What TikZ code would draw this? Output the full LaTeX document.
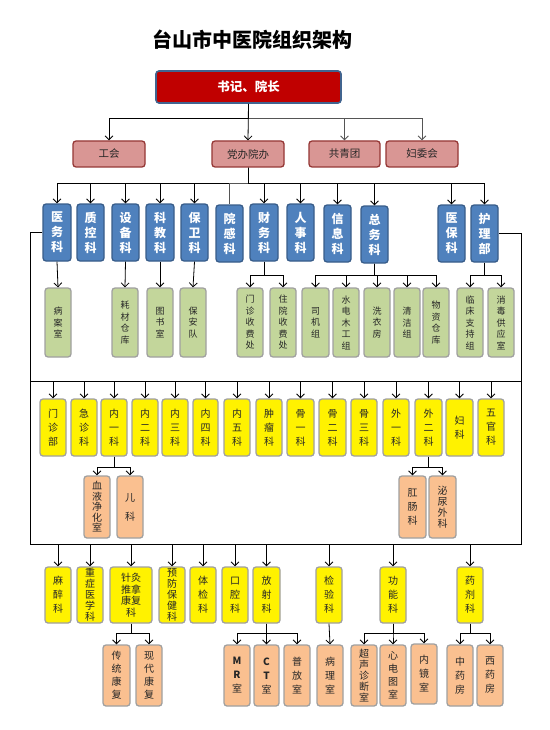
\documentclass[tikz,border=0pt]{standalone}
\usepackage{fontspec}
\setmainfont{Noto Sans CJK SC}
\usetikzlibrary{arrows.meta}
\definecolor{cRed}{HTML}{C00000}
\definecolor{cRedB}{HTML}{41648F}
\definecolor{cPink}{HTML}{D99694}
\definecolor{cPinkB}{HTML}{953735}
\definecolor{cBlue}{HTML}{4F81BD}
\definecolor{cBlueB}{HTML}{385D8A}
\definecolor{cGreen}{HTML}{C3D69B}
\definecolor{cOrange}{HTML}{FAC090}
\definecolor{cGray}{HTML}{A0A0A0}
\definecolor{cTxt}{HTML}{262626}
\definecolor{cLine}{HTML}{555555}
\newcommand\mkbox[7]{%
  \pgfmathsetmacro\mkbw{#5-#3}\pgfmathsetmacro\mkbh{#6-#4}%
  \node[#2,minimum width=\mkbw pt,minimum height=\mkbh pt] (#1) at ({(#3+#5)/2},{(#4+#6)/2}) {#7};}
\tikzset{
 box/.style={rounded corners=3pt, inner sep=0pt, align=center, line width=1.3pt},
 redbox/.style={box, fill=cRed, draw=cRedB, text=white, font=\bfseries\fontsize{12.5}{14}\selectfont, line width=1.6pt},
 pinkbox/.style={box, fill=cPink, draw=cPinkB, text=cTxt, font=\fontsize{10.5}{12}\selectfont},
 bluebox/.style={box, fill=cBlue, draw=cBlueB, text=white, font=\bfseries\fontsize{12}{15}\selectfont},
 greenbox/.style={box, fill=cGreen, draw=cGray, text=cTxt, font=\fontsize{9}{11.5}\selectfont},
 yelbox/.style={box, fill=yellow, draw=cGray, text=cTxt, font=\fontsize{10}{14}\selectfont},
 orbox/.style={box, fill=cOrange, draw=cGray, text=cTxt, font=\fontsize{10}{14}\selectfont},
 arr/.style={-{Straight Barb[length=4pt,width=8pt]}, line width=0.8pt},
 ln/.style={line width=0.8pt}
}
\begin{document}
\begin{tikzpicture}[x=1pt,y=-1pt]
\useasboundingbox[fill=white] (0,0) rectangle (549,730);
\node[font=\bfseries\fontsize{20}{20}\selectfont] (title) at (252,40) {台山市中医院组织架构};
% top
\mkbox{top}{redbox}{156}{71}{341}{103}{书记、院长}
\mkbox{gonghui}{pinkbox}{73}{141}{145}{167}{工会}
\mkbox{dangban}{pinkbox}{212}{141}{284}{167}{党办院办}
\mkbox{gongqing}{pinkbox}{309}{141}{380}{167}{共青团}
\mkbox{fuwei}{pinkbox}{386}{141}{458}{167}{妇委会}
% blue row
\mkbox{yiwu}{bluebox}{43}{204}{71}{261}{医\\务\\科}
\mkbox{zhikong}{bluebox}{77}{204}{104}{261}{质\\控\\科}
\mkbox{shebei}{bluebox}{112}{204}{139}{261}{设\\备\\科}
\mkbox{kejiao}{bluebox}{146}{204}{174}{261}{科\\教\\科}
\mkbox{baowei}{bluebox}{181}{204}{208}{261}{保\\卫\\科}
\mkbox{yuangan}{bluebox}{216}{205}{243}{262}{院\\感\\科}
\mkbox{caiwu}{bluebox}{250}{204}{278}{261}{财\\务\\科}
\mkbox{renshi}{bluebox}{287}{204}{314}{261}{人\\事\\科}
\mkbox{xinxi}{bluebox}{324}{205}{351}{262}{信\\息\\科}
\mkbox{zongwu}{bluebox}{361}{206}{388}{263}{总\\务\\科}
\mkbox{yibao}{bluebox}{438}{205}{465}{262}{医\\保\\科}
\mkbox{huli}{bluebox}{471}{205}{498}{262}{护\\理\\部}
% green row
\mkbox{bingan}{greenbox}{45}{288}{71}{357}{病\\案\\室}
\mkbox{haocai}{greenbox}{112}{288}{138}{357}{耗\\材\\仓\\库}
\mkbox{tushu}{greenbox}{147}{288}{173}{357}{图\\书\\室}
\mkbox{baoan}{greenbox}{180}{288}{206}{357}{保\\安\\队}
\mkbox{menzhensf}{greenbox}{237}{288}{263}{357}{门\\诊\\收\\费\\处}
\mkbox{zhuyuansf}{greenbox}{270}{288}{296}{357}{住\\院\\收\\费\\处}
\mkbox{siji}{greenbox}{302}{288}{329}{357}{司\\机\\组}
\mkbox{shuidian}{greenbox}{333}{288}{359}{357}{水\\电\\木\\工\\组}
\mkbox{xiyi}{greenbox}{364}{288}{390}{357}{洗\\衣\\房}
\mkbox{qingjie}{greenbox}{394}{288}{420}{357}{清\\洁\\组}
\mkbox{wuzi}{greenbox}{423}{288}{449}{357}{物\\资\\仓\\库}
\mkbox{linchuang}{greenbox}{457}{288}{483}{357}{临\\床\\支\\持\\组}
\mkbox{xiaodu}{greenbox}{488}{288}{514}{357}{消\\毒\\供\\应\\室}
% yellow row
\mkbox{menzhen}{yelbox}{40}{399}{66}{456}{门\\诊\\部}
\mkbox{jizhen}{yelbox}{71}{399}{97}{456}{急\\诊\\科}
\mkbox{nei1}{yelbox}{101}{399}{127}{456}{内\\一\\科}
\mkbox{nei2}{yelbox}{132}{399}{158}{456}{内\\二\\科}
\mkbox{nei3}{yelbox}{162}{399}{188}{456}{内\\三\\科}
\mkbox{nei4}{yelbox}{193}{399}{218}{456}{内\\四\\科}
\mkbox{nei5}{yelbox}{224}{399}{250}{456}{内\\五\\科}
\mkbox{zhongliu}{yelbox}{256}{399}{282}{456}{肿\\瘤\\科}
\mkbox{gu1}{yelbox}{287}{399}{314}{456}{骨\\一\\科}
\mkbox{gu2}{yelbox}{319}{399}{346}{456}{骨\\二\\科}
\mkbox{gu3}{yelbox}{351}{399}{377}{456}{骨\\三\\科}
\mkbox{wai1}{yelbox}{383}{399}{409}{456}{外\\一\\科}
\mkbox{wai2}{yelbox}{415}{399}{442}{456}{外\\二\\科}
\mkbox{fuke}{yelbox}{446}{399}{473}{456}{妇\\科}
\mkbox{wuguan}{yelbox}{478}{399}{504}{456}{五\\官\\科}
% orange mid
\mkbox{xueye}{orbox,font=\fontsize{10}{10.5}\selectfont}{84}{476}{110}{538}{血\\液\\净\\化\\室}
\mkbox{erke}{orbox}{117}{476}{143}{538}{儿\\[5pt]科}
\mkbox{gangchang}{orbox}{399}{476}{426}{538}{肛\\肠\\科}
\mkbox{miniao}{orbox,font=\fontsize{10}{11}\selectfont}{429}{476}{456}{538}{泌\\尿\\外\\科}
% bottom yellow
\mkbox{mazui}{yelbox}{45}{567}{71}{623}{麻\\醉\\科}
\mkbox{zhongzheng}{yelbox,font=\fontsize{10}{11}\selectfont}{77}{567}{103}{623}{重\\症\\医\\学\\科}
\mkbox{zhenjiu}{yelbox,font=\fontsize{10}{11.5}\selectfont}{110}{567}{152}{623}{针灸\\推拿\\康复\\科}
\mkbox{yufang}{yelbox,font=\fontsize{10}{11}\selectfont}{159}{567}{185}{623}{预\\防\\保\\健\\科}
\mkbox{tijian}{yelbox}{190}{567}{216}{623}{体\\检\\科}
\mkbox{kouqiang}{yelbox}{222}{567}{248}{623}{口\\腔\\科}
\mkbox{fangshe}{yelbox}{253}{567}{280}{623}{放\\射\\科}
\mkbox{jianyan}{yelbox}{316}{567}{342}{623}{检\\验\\科}
\mkbox{gongneng}{yelbox}{380}{567}{406}{623}{功\\能\\科}
\mkbox{yaoji}{yelbox}{457}{567}{483}{623}{药\\剂\\科}
% bottom orange
\mkbox{chuantong}{orbox,font=\fontsize{10}{13}\selectfont}{103}{645}{130}{706}{传\\统\\康\\复}
\mkbox{xiandai}{orbox,font=\fontsize{10}{13}\selectfont}{136}{645}{162}{706}{现\\代\\康\\复}
\mkbox{mr}{orbox}{224}{645}{250}{706}{\bfseries M\\\bfseries R\\室}
\mkbox{ct}{orbox}{254}{645}{279}{706}{\bfseries C\\\bfseries T\\室}
\mkbox{pufang}{orbox}{284}{645}{310}{706}{普\\放\\室}
\mkbox{bingli}{orbox}{317}{645}{343}{706}{病\\理\\室}
\mkbox{chaosheng}{orbox,font=\fontsize{10}{11}\selectfont}{351}{645}{377}{706}{超\\声\\诊\\断\\室}
\mkbox{xindian}{orbox,font=\fontsize{10}{13}\selectfont}{380}{645}{406}{706}{心\\电\\图\\室}
\mkbox{neijing}{orbox}{411}{644}{437}{704}{内\\镜\\室}
\mkbox{zhongyao}{orbox}{447}{645}{473}{706}{中\\药\\房}
\mkbox{xiyao}{orbox}{477}{645}{503}{706}{西\\药\\房}
% bus coordinates
\coordinate (b1) at (0,118);
\coordinate (b2) at (0,183);
\coordinate (b3) at (0,275);
\coordinate (b4) at (0,467);
\coordinate (b5) at (0,633);
\coordinate (fTL) at (30,381);
\coordinate (fTR) at (521,381);
\coordinate (fBL) at (30,544);
\coordinate (fBR) at (521,544);
% top connectors
\draw[arr] (top.south) -- (top.south |- b1) -| (gonghui.north);
\draw[arr] (top.south) -- (dangban.north);
\draw[arr,cLine] (top.south |- b1) -| (gongqing.north);
\draw[arr,cLine] (top.south |- b1) -| (fuwei.north);
% second level
\foreach \c in {yiwu,zhikong,shebei,kejiao,baowei,caiwu,renshi,xinxi,zongwu,yibao,huli}
  \draw[arr] (dangban.south) -- (dangban.south |- b2) -| (\c.north);
\draw[ln,cLine] (dangban.south |- b2) -| (yuangan.north);
% green row
\draw[arr] (yiwu.south) -- (bingan.north);
\draw[arr] (shebei.south) -- (haocai.north);
\draw[arr] (kejiao.south) -- (tushu.north);
\draw[arr] (baowei.south) -- (baoan.north);
\foreach \c in {menzhensf,zhuyuansf}
  \draw[arr] (caiwu.south) -- (caiwu.south |- b3) -| (\c.north);
\foreach \c in {siji,shuidian,xiyi,qingjie,wuzi}
  \draw[arr] (zongwu.south) -- (zongwu.south |- b3) -| (\c.north);
\foreach \c in {linchuang,xiaodu}
  \draw[arr] (huli.south) -- (huli.south |- b3) -| (\c.north);
% frame
\draw[ln] (yiwu.west) -| (fBL) -- (fBR) |- (huli.east);
\draw[ln] (fTL) -- (fTR);
\foreach \c in {menzhen,jizhen,nei1,nei2,nei3,nei4,nei5,zhongliu,gu1,gu2,gu3,wai1,wai2,fuke,wuguan}
  \draw[arr] (\c.north |- fTL) -- (\c.north);
\foreach \c in {xueye,erke}
  \draw[arr] (nei1.south) -- (nei1.south |- b4) -| (\c.north);
\foreach \c in {gangchang,miniao}
  \draw[arr] (wai2.south) -- (wai2.south |- b4) -| (\c.north);
% bottom
\foreach \c in {mazui,zhongzheng,zhenjiu,yufang,tijian,kouqiang,fangshe,jianyan,gongneng,yaoji}
  \draw[arr] (\c.north |- fBL) -- (\c.north);
\foreach \c in {chuantong,xiandai}
  \draw[arr] (zhenjiu.south) -- (zhenjiu.south |- b5) -| (\c.north);
\foreach \c in {mr,ct,pufang}
  \draw[arr] (fangshe.south) -- (fangshe.south |- b5) -| (\c.north);
\draw[arr] (jianyan.south) -- (bingli.north);
\foreach \c in {chaosheng,xindian,neijing}
  \draw[arr] (gongneng.south) -- (gongneng.south |- b5) -| (\c.north);
\foreach \c in {zhongyao,xiyao}
  \draw[arr] (yaoji.south) -- (yaoji.south |- b5) -| (\c.north);
\end{tikzpicture}
\end{document}
